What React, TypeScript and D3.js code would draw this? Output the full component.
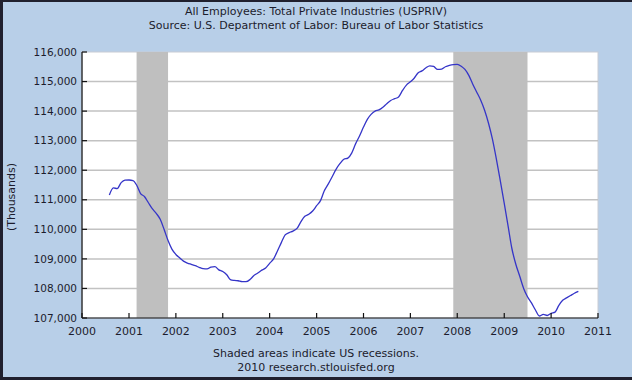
import React from "react";
import * as d3 from "d3";

// ---- Data (thousands of employees, monthly, Aug 2000 – Aug 2010) ----
const firstMonth = "2000-08";
const values: number[] = [
  // 2000 Aug–Dec
  111160, 111400, 111380, 111580, 111665,
  // 2001
  111670, 111650, 111500, 111210, 111110, 110900, 110700, 110540, 110340, 110000, 109620, 109330,
  // 2002
  109150, 109030, 108925, 108860, 108815, 108770, 108715, 108670, 108660, 108720, 108736, 108630,
  // 2003
  108575, 108465, 108300, 108270, 108260, 108229, 108229, 108300, 108440, 108520, 108620, 108690,
  // 2004
  108850, 109000, 109260, 109550, 109810, 109890, 109940, 110030, 110260, 110440, 110510, 110620,
  // 2005
  110800, 110980, 111300, 111530, 111770, 112030, 112220, 112370, 112410, 112580, 112900, 113160,
  // 2006
  113460, 113730, 113890, 114000, 114040, 114130, 114250, 114360, 114420, 114480, 114700, 114880,
  // 2007
  114990, 115120, 115290, 115360, 115460, 115530, 115510, 115410, 115420, 115500, 115550, 115575,
  // 2008
  115580, 115520, 115410, 115200, 114910, 114640, 114375, 114030, 113580, 113050, 112370, 111650,
  // 2009
  110880, 110080, 109360, 108820, 108420, 108000, 107720, 107510, 107270, 107068, 107120, 107085,
  // 2010 Jan–Aug
  107159, 107200, 107420, 107600, 107680, 107760, 107836, 107900,
];

const recessions: [string, string][] = [
  ["2001-03-01", "2001-11-01"],
  ["2007-12-01", "2009-07-01"],
];

const yTicks = [107000, 108000, 109000, 110000, 111000, 112000, 113000, 114000, 115000, 116000];
const xTickYears = [2000, 2001, 2002, 2003, 2004, 2005, 2006, 2007, 2008, 2009, 2010, 2011];

const titleLines = [
  "All Employees: Total Private Industries (USPRIV)",
  "Source: U.S. Department of Labor: Bureau of Labor Statistics",
];
const footerLines = ["Shaded areas indicate US recessions.", "2010 research.stlouisfed.org"];
const yAxisTitle = "(Thousands)";

// ---- Layout ----
const W = 632;
const H = 380;
const plot = { left: 82, right: 598, top: 52, bottom: 318 };
const FONT = "'DejaVu Sans', Verdana, sans-serif";
const BG = "#b8cfe8";
const TEXT = "#1c1c2c";

export default function App() {
  const parse = d3.timeParse("%Y-%m");
  const start = parse(firstMonth) as Date;
  const data = values.map((v, i) => ({ date: d3.timeMonth.offset(start, i), value: v }));

  const x = d3
    .scaleTime()
    .domain([new Date(2000, 0, 1), new Date(2011, 0, 1)])
    .range([plot.left, plot.right]);
  const y = d3.scaleLinear().domain([107000, 116000]).range([plot.bottom, plot.top]);

  const line = d3
    .line<{ date: Date; value: number }>()
    .x((d) => x(d.date))
    .y((d) => y(d.value))
    .curve(d3.curveMonotoneX);

  const fmt = d3.format(",");
  const pd = d3.timeParse("%Y-%m-%d");

  return (
    <svg
      width={W}
      height={H}
      style={{ position: "absolute", left: 0, top: 0, display: "block" }}
      fontFamily={FONT}
    >
      <rect x={0} y={0} width={W} height={H} fill={BG} />
      {/* dark frame (left, top, bottom) */}
      <rect x={0} y={0} width={W} height={2} fill="#20202e" />
      <rect x={0} y={0} width={3} height={H} fill="#20202e" />
      <rect x={0} y={H - 3} width={W} height={3} fill="#20202e" />

      {/* titles */}
      {titleLines.map((t, i) => (
        <text key={t} x={316} y={15 + i * 13.5} textAnchor="middle" fontSize={11} fill={TEXT}>
          {t}
        </text>
      ))}

      {/* plot background */}
      <rect
        x={plot.left}
        y={plot.top}
        width={plot.right - plot.left}
        height={plot.bottom - plot.top}
        fill="#ffffff"
        stroke="#c8ccd4"
        strokeWidth={1}
      />

      {/* gridlines */}
      {yTicks.slice(1, -1).map((v) => (
        <line
          key={v}
          x1={plot.left}
          x2={plot.right}
          y1={y(v)}
          y2={y(v)}
          stroke="#c2c2c2"
          strokeWidth={1.5}
        />
      ))}

      {/* recession shading */}
      {recessions.map(([a, b]) => (
        <rect
          key={a}
          x={x(pd(a) as Date)}
          y={plot.top}
          width={x(pd(b) as Date) - x(pd(a) as Date)}
          height={plot.bottom - plot.top}
          fill="#bfbfbf"
        />
      ))}

      {/* series */}
      <path d={line(data) ?? ""} fill="none" stroke="#3535c8" strokeWidth={1.3} strokeLinejoin="round" />

      {/* axes */}
      <line x1={plot.left} x2={plot.left} y1={plot.top} y2={plot.bottom} stroke="#111" strokeWidth={1.2} />
      <line x1={plot.left} x2={plot.right} y1={plot.bottom} y2={plot.bottom} stroke="#111" strokeWidth={1.2} />

      {/* y ticks & labels */}
      {yTicks.map((v) => (
        <g key={v}>
          <line x1={plot.left} x2={plot.left + 5} y1={y(v)} y2={y(v)} stroke="#111" strokeWidth={1.2} />
          <text x={plot.left - 5} y={y(v)} dy="0.35em" textAnchor="end" fontSize={10.5} fill={TEXT}>
            {fmt(v)}
          </text>
        </g>
      ))}

      {/* x ticks & labels */}
      {xTickYears.map((yr) => {
        const xp = x(new Date(yr, 0, 1));
        return (
          <g key={yr}>
            <line x1={xp} x2={xp} y1={plot.bottom} y2={plot.bottom - 5} stroke="#111" strokeWidth={1.2} />
            <text x={xp} y={335} textAnchor="middle" fontSize={11} fill={TEXT}>
              {yr}
            </text>
          </g>
        );
      })}

      {/* y axis title */}
      <text
        transform={`translate(15,197) rotate(-90)`}
        textAnchor="middle"
        fontSize={11}
        fill={TEXT}
      >
        {yAxisTitle}
      </text>

      {/* footer */}
      {footerLines.map((t, i) => (
        <text key={t} x={316} y={357 + i * 13.5} textAnchor="middle" fontSize={11} fill={TEXT}>
          {t}
        </text>
      ))}
    </svg>
  );
}
